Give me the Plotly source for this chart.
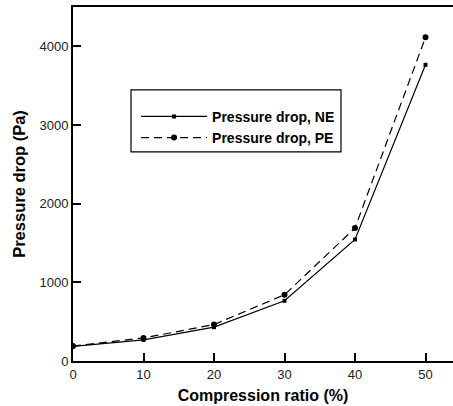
import plotly.graph_objects as go

compression = [0, 10, 20, 30, 40, 50]
dp_ne = [187, 268, 430, 765, 1545, 3765]
dp_pe = [190, 293, 463, 842, 1690, 4115]

x_ticks = [0, 10, 20, 30, 40, 50]
y_ticks = [0, 1000, 2000, 3000, 4000]

FONT = "Arial, 'Liberation Sans', sans-serif"

fig = go.Figure()
fig.add_trace(go.Scatter(
    x=compression, y=dp_ne, name="Pressure drop, NE", mode="lines+markers",
    line=dict(color="black", width=1.2),
    marker=dict(symbol="square", size=4, color="black"),
))
fig.add_trace(go.Scatter(
    x=compression, y=dp_pe, name="Pressure drop, PE", mode="lines+markers",
    line=dict(color="black", width=1.2, dash="8px,5px"),
    marker=dict(symbol="circle", size=6, color="black"),
))

fig.update_layout(
    width=453, height=406,
    margin=dict(l=73, r=0, t=7, b=45),
    paper_bgcolor="white", plot_bgcolor="white",
    font=dict(family=FONT, color="#222", size=13),
    showlegend=True,
    legend=dict(
        x=0.166, y=0.735, xanchor="left", yanchor="top",
        bgcolor="rgba(0,0,0,0)", borderwidth=0,
        font=dict(family=FONT, size=14, color="black", weight="bold"),
        itemwidth=66, tracegroupgap=0,
    ),
    shapes=[dict(type="rect", xref="paper", yref="paper",
                 x0=(131 - 73) / 380, x1=(341 - 73) / 380,
                 y0=(360.7 - 152) / 353.4, y1=(360.7 - 90) / 353.4,
                 line=dict(color="black", width=1.2), fillcolor="rgba(0,0,0,0)")],
)

fig.update_xaxes(
    range=[0, 53.9], tickvals=x_ticks, ticks="inside", ticklen=8, tickwidth=1.5,
    tickcolor="black", showline=True, linecolor="black", linewidth=2, mirror=True,
    showgrid=False, zeroline=False,
    tickfont=dict(family=FONT, size=13, color="#222"),
    title=dict(text="Compression ratio (%)", standoff=9,
               font=dict(family=FONT, size=16, color="black", weight="bold")),
)
fig.update_yaxes(
    range=[0, 4500], tickvals=y_ticks, ticks="inside", ticklen=8, tickwidth=1.5,
    tickcolor="black", showline=True, linecolor="black", linewidth=2, mirror=False,
    showgrid=False, zeroline=False,
    tickfont=dict(family=FONT, size=13, color="#222"),
    title=dict(text="Pressure drop (Pa)", standoff=10,
               font=dict(family=FONT, size=16.5, color="black", weight="bold")),
)

fig.write_html("out.html")
